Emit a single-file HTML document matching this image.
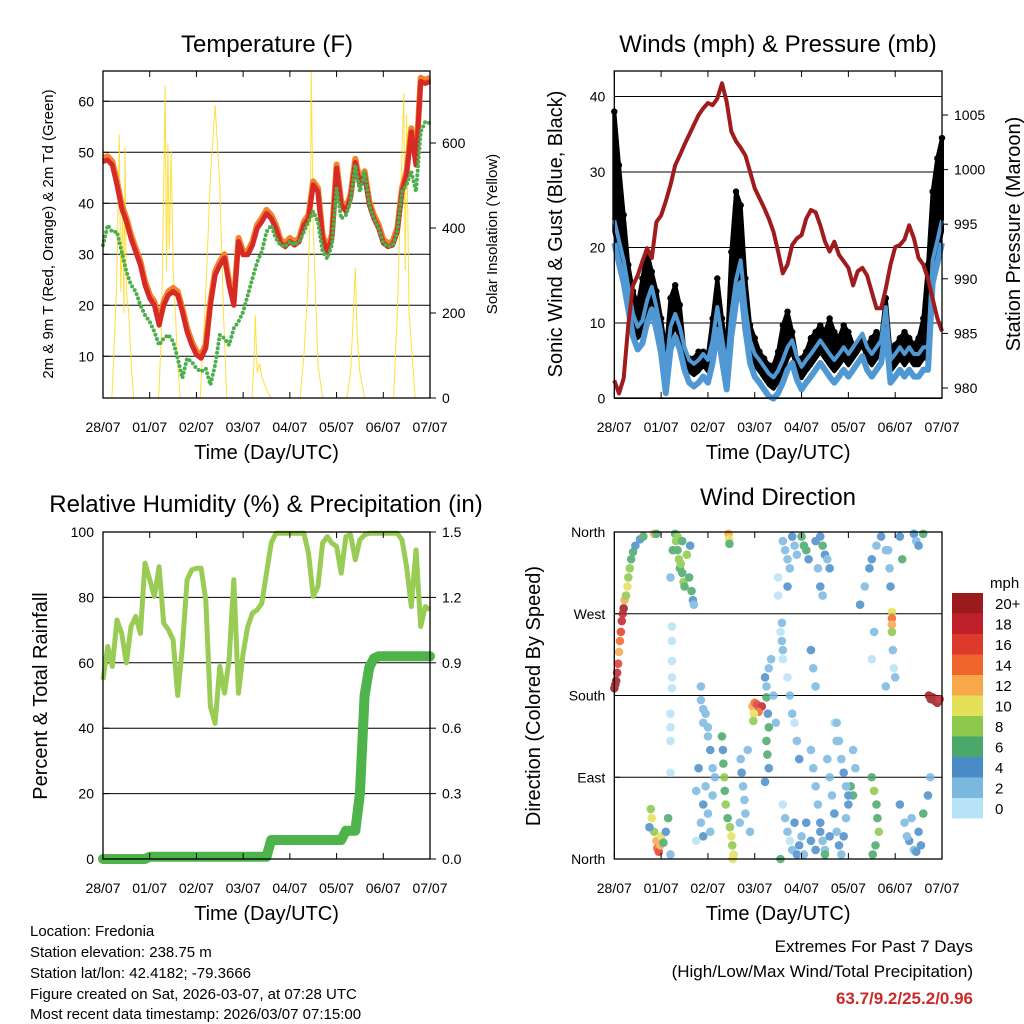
<!DOCTYPE html>
<html><head><meta charset="utf-8"><style>
html,body{margin:0;padding:0;background:#fff;}
svg{display:block;font-family:"Liberation Sans",Arial,sans-serif;}
</style></head><body>
<svg id="root" width="1024" height="1024" viewBox="0 0 1024 1024">
<rect width="1024" height="1024" fill="#fff"/>
<g id="layer"></g>
<g font-size="15" fill="#000">
<text x="30" y="936">Location: Fredonia</text>
<text x="30" y="957">Station elevation: 238.75 m</text>
<text x="30" y="978">Station lat/lon: 42.4182; -79.3666</text>
<text x="30" y="999">Figure created on Sat, 2026-03-07, at 07:28 UTC</text>
<text x="30" y="1019">Most recent data timestamp: 2026/03/07 07:15:00</text>
</g>
<g text-anchor="end">
<text x="973" y="952" font-size="17">Extremes For Past 7 Days</text>
<text x="973" y="977" font-size="17">(High/Low/Max Wind/Total Precipitation)</text>
<text x="973" y="1004" font-size="17" font-weight="bold" fill="#cc2a2a">63.7/9.2/25.2/0.96</text>
</g>
</svg>
<script>
// ---------- data (0.1-day steps, t = 0 .. 7) ----------
const tempRed = [48.2,48.5,47.5,43.6,39,36.4,33.1,30.5,27.9,24,21.4,20,16.1,20,22,22.7,22,18.7,14.8,12.2,10.3,9.6,11.6,20,25.9,27.9,29.3,24,20,32.5,29.9,29.9,31.8,35.1,36.4,38,37,35.1,32.2,31.5,32.5,31.8,32.5,35.7,37,43.6,42.3,33.1,30.5,33.1,46.9,39.7,38.4,41,48,43.6,45.6,39.7,37,35.1,32.2,31.5,31.8,34.4,42.3,45.6,54,47.5,63.9,63.5,63.9];
const dewGreen = [31.8,35.7,34.4,34.4,30.5,26.6,24,22.7,20,18.1,16.8,14.8,12.2,13.5,14.2,12.9,9.6,5.7,9.6,8.9,7.6,7,7.6,4.4,8.3,14.2,13.5,12.2,15.5,16.8,18.7,22,25.3,28.5,30.5,34.4,35.7,33.1,31.8,31.5,32.5,31.8,32.5,34.4,36.4,38.4,36.4,30.5,29.2,31.8,42.9,37,37.7,40.3,47.5,42.3,46.2,39.7,37,35.1,32.2,31.5,31.8,34.4,42.3,43.6,46.2,42.3,54,56,55.7];
const solarT = [0.19,0.25,0.3,0.35,0.38,0.42,0.45,0.47,0.5,0.55,0.62,0.66, 1.19,1.25,1.3,1.33,1.36,1.39,1.42,1.46,1.5,1.55,1.6,1.65, 2.08,2.2,2.3,2.4,2.5,2.58,2.65, 3.19,3.23,3.26,3.3,3.35,3.4,3.5,3.6, 4.22,4.3,4.38,4.44,4.46,4.5,4.55,4.6,4.7, 5.22,5.3,5.36,5.4,5.44,5.5,5.6, 6.22,6.3,6.38,6.44,6.47,6.5,6.55,6.62,6.68];
const solarW = [0,150,300,620,250,450,200,590,250,200,50,0, 0,150,500,736,300,600,350,580,300,200,80,0, 0,250,520,689,500,200,0, 0,80,195,60,80,50,20,0, 0,100,250,450,769,400,250,80,0, 0,60,200,306,150,60,0, 0,200,500,718,300,666,200,100,0];
const windSust = [22.1,19.4,16.8,13.3,9.7,8,8.8,11.5,13.3,10.6,7.5,2.2,8,9.7,8,5.3,3.6,3.1,3.6,4.4,3.6,6.2,10.6,6.6,2.7,9.7,14.2,16.8,10.6,6.2,4.4,3.6,2.7,1.8,1.3,2.2,3.6,5.3,6.2,4,2.7,3.6,4.4,5.3,6.2,5.3,4.4,3.6,4.4,5.3,4.4,5.3,6.2,7.1,5.3,4.4,5.3,6.2,10.6,3.6,4.4,5.3,4.4,5.3,4.4,4.4,5.3,5.3,16.8,19.4,22.1];
const windGust = [38,30.9,24.3,17.7,14.2,12.4,15.9,19.4,16.8,14.2,10.6,6.2,13.3,15,12.4,6.2,5.3,5.3,6.2,6.2,5.8,10.6,15.9,10.6,6.2,19.4,27.4,25.6,15.9,9.7,8,6.2,5.3,4.4,4.4,6.2,9.7,11.5,8.8,5.3,5.3,6.2,8,8.8,9.7,8.8,10.6,8.8,8,9.7,8.8,7.1,7.1,8,7.1,8,8.8,8,13.3,6.2,7.1,8,8.8,8,7.1,8,10.6,17.7,27.4,31.8,34.5];
const pressure = [980.7,979.5,980.9,985.8,989.4,990.3,991.6,992.8,991.9,995.2,995.8,997.1,998.6,1000.4,1001.3,1002.3,1003.2,1004.1,1005,1005.6,1006.1,1005.9,1006.5,1007.9,1006.2,1003.5,1002.6,1002,1001.3,999.8,998.3,997.4,996.5,995.5,994.3,992.5,990.5,991.3,993.1,993.7,994,995.5,996.3,996.1,994.9,993.4,992.5,993.4,992.2,991.6,991,989.4,990.7,991,990.3,988.8,987.3,987.3,989.1,991.3,992.9,993.1,993.6,994.9,993.7,991.9,991.3,990,988.2,986.4,985.2];
const relHum = [54.8,65,58.9,73.1,69,60,71.1,74.2,69,90.5,85.4,80.3,89.4,72.1,70.1,67,50,65,85.4,88.4,88.9,88.9,79.2,46.6,41.5,58.9,50.7,60.9,85.4,50.7,62.9,71.1,75.2,76.2,78.2,87.4,96.6,99.6,99.6,99.6,99.6,99.6,99.6,99.6,93.5,80.3,83.3,96.6,98.6,96.6,95.6,87.4,98.6,99.1,91.5,97.6,99.1,99.6,99.6,99.6,99.6,99.6,99.6,99.6,97.6,89.4,77.2,94.5,71.1,77.2,76.2];
const precip = [0,0,0,0,0,0,0,0,0,0, 0.01,0.01,0.01,0.01,0.01,0.01,0.01,0.01,0.01,0.01,0.01,0.01,0.01,0.01,0.01,0.01,0.01,0.01,0.01,0.01,0.01,0.01,0.01,0.01,0.01,0.01, 0.087,0.087,0.087,0.087,0.087,0.087,0.087,0.087,0.087,0.087,0.087,0.087,0.087,0.087,0.087,0.087, 0.13,0.13,0.13, 0.3,0.75,0.88,0.92, 0.93,0.93,0.93,0.93,0.93,0.93,0.93,0.93,0.93,0.93,0.93,0.93];
// wind direction observations: time (days), direction (deg), speed (mph)
const dirT = [0,0.02,0.04,0.06,0.08,0.1,0.12,0.14,0.16,0.18,0.2,0.22,0.25,0.28,0.3,0.33,0.36,0.4,0.45,0.55,0.62,0.85,0.9,
 1.3,1.32,1.35,1.38,1.4,1.42,1.45,1.48,1.5,1.55,1.6,1.65,1.68,1.7,1.62,1.2,1.25,1.35,1.45,
 2.44,2.45,2.46,
 1.23,1.23,1.23,1.23,1.23,1.2,1.2,1.2,1.2,
 1.85,1.85,1.9,1.95,1.9,2.0,2.0,2.05,2.1,2.15,2.1,1.95,1.9,1.85,2.0,2.05,1.9,1.75,1.75,1.8,
 2.3,2.32,2.33,2.35,2.36,2.38,2.42,2.47,2.5,2.52,2.55,2.53,
 2.7,2.72,2.75,2.78,2.8,2.68,2.9,2.85,
 2.95,3.0,3.05,3.1,3.15,3.08,2.98,2.97,
 3.22,3.25,3.25,3.28,3.3,3.25,3.27,3.3,3.22,3.3,3.35,3.4,3.45,
 3.6,3.65,3.7,3.75,3.8,3.9,3.95,4.0,3.85,3.55,4.05,
 3.6,3.65,3.7,3.75,3.7,3.8,3.85,3.9,4.0,4.05,4.1,4.15,3.5,3.5,3.58,3.58,3.6,4.4,4.45,4.5,4.55,4.6,4.3,
 3.55,3.6,3.7,3.75,3.8,3.85,3.9,3.95,
 4.2,4.25,4.3,4.35,4.4,4.45,4.2,4.25,4.3,4.35,4.4,4.45,4.5,
 4.6,4.65,4.7,4.75,4.8,4.85,4.9,4.95,5.0,5.05,5.1,4.55,4.7,4.75,
 4.75,4.8,4.85,4.9,4.95,5.0,5.1,5.15,
 5.5,5.55,5.6,5.62,5.65,5.58,5.52,
 5.25,5.35,5.45,5.6,5.7,5.8,5.5,5.55,5.5,6.0,6.1,6.15,
 5.93,5.93,5.93,5.93,5.9,5.88,5.85,5.95,5.97,5.8,
 6.1,6.2,6.3,6.4,6.5,6.6,6.7,6.75,6.55,6.35,6.25,6.45,
 6.4,6.45,6.5,6.6,
 6.72,6.76,6.8,6.85,6.9,6.95,
 4.1,4.2,4.3,4.4,4.5,4.6,
 0.78,0.8,0.85,0.9,0.92,0.95,0.98,1.0,1.05,1.1,1.15,1.2,0.75];
const dirDeg = [188,192,196,205,215,228,240,250,262,270,276,285,290,300,310,320,330,338,345,352,355,358,358,
 358,350,340,330,320,325,315,305,300,335,310,295,285,280,345,310,340,355,350,
 358,352,347,
 256,240,218,200,188,160,145,130,95,
 190,175,165,160,150,145,135,120,100,90,70,80,60,40,50,30,25,20,75,100,
 135,120,105,90,75,60,45,35,25,15,5,0,
 110,95,80,65,50,40,30,120,
 168,172,170,166,168,162,160,152,
 200,190,178,160,145,130,115,100,85,210,220,180,150,
 60,45,30,20,10,5,15,25,40,0,5,
 350,340,330,320,300,355,345,335,355,345,340,330,310,290,260,240,220,355,345,335,330,320,350,
 250,230,200,180,160,150,130,110,
 230,210,190,320,300,290,120,100,80,60,40,20,10,
 90,70,50,30,15,5,25,45,60,80,70,110,150,130,
 150,130,110,95,80,70,120,100,
 90,75,60,45,30,15,5,
 280,300,320,345,355,340,330,250,220,200,355,330,
 272,265,258,250,300,320,340,230,210,190,
 60,40,20,10,30,50,70,90,15,45,25,8,
 358,350,345,358,
 180,176,178,174,172,176,
 40,20,10,30,5,25,
 55,45,30,20,12,8,15,25,18,30,45,5,35];
const dirSpd = [21,21,20,19,17,13,14,16,18,19,20,12,9,10,8,8,7,6,5,4,6,12,7,
 6,8,7,8,6,8,7,8,6,8,7,6,4,3,4,3,7,8,6,
 12,10,7,
 1,1,0,0,1,1,1,1,1,
 2,3,2,3,2,2,3,4,2,3,2,3,4,3,2,3,4,1,3,4,
 6,5,7,8,7,8,6,9,10,9,10,11,
 3,4,2,3,2,3,2,3,
 13,15,16,17,18,15,10,9,
 4,3,6,5,6,7,6,5,4,3,2,3,2,
 1,2,3,1,2,4,4,3,4,6,3,
 2,3,2,3,4,4,2,3,6,7,6,4,1,0,2,2,1,5,6,4,3,4,4,
 1,2,1,3,2,1,3,4,
 4,3,2,3,4,3,3,2,3,2,4,3,2,
 2,3,4,3,4,3,4,2,4,6,7,3,1,2,
 2,3,2,4,3,4,3,2,
 7,8,6,7,8,6,7,
 4,3,5,3,4,2,4,2,1,3,4,6,
 10,14,12,8,4,3,2,2,1,2,
 4,3,4,3,5,6,4,3,4,2,3,4,
 4,3,4,7,
 20,21,20,21,20,19,
 4,5,4,5,6,4,
 9,10,8,12,14,16,13,10,6,5,6,3,5];
const dayLabels = ["28/07","01/07","02/07","03/07","04/07","05/07","06/07","07/07"];
const tempTicks = [10,20,30,40,50,60];
const solarTicks = [0,200,400,600];
const windTicks = [0,10,20,30,40];
const presTicks = [980,985,990,995,1000,1005];
const rhTicks = [0,20,40,60,80,100];
const rainTicks = ["0.0","0.3","0.6","0.9","1.2","1.5"];
const dirTicks = [0,90,180,270,360];
const dirNames = ["North","East","South","West","North"];
const speedBins = ["20+","18","16","14","12","10","8","6","4","2","0"];
const speedColors = ["#9b1a1e","#c0202a","#dd3a2b","#f0652c","#f8a848","#e4e05a","#8cc84a","#4aa86a","#4a8cc8","#7ab8e0","#b8e2f5"];

const NS = "http://www.w3.org/2000/svg";
const layer = document.getElementById("layer");
function mk(tag, attrs, name, parent) {
  const e = document.createElementNS(NS, tag);
  for (const k in attrs) e.setAttribute(k, attrs[k]);
  
  
  (parent || layer).appendChild(e);
  return e;
}
function txt(x, y, s, attrs, name, parent) {
  const e = mk("text", Object.assign({x: x, y: y}, attrs), name, parent);
  e.textContent = s;
  return e;
}
function pathFrom(arr, fx, fy) {
  return arr.map((v, i) => (i ? "L" : "M") + fx(i * 0.1).toFixed(1) + "," + fy(v).toFixed(1)).join("");
}

const P = {
  tl: {x0: 103, x1: 430, y0: 71, y1: 398},
  tr: {x0: 614.3, x1: 942, y0: 71, y1: 398},
  bl: {x0: 103, x1: 430, y0: 532, y1: 859},
  br: {x0: 614.3, x1: 942, y0: 532, y1: 859}
};
function xs(p) { return t => p.x0 + t * (p.x1 - p.x0) / 7; }

function frameAndTime(p, prefix) {
  const fx = xs(p);
  const g = mk("g", {}, prefix + "-x-axis");
  for (let i = 0; i < 8; i++) {
    const x = fx(i);
    mk("line", {x1: x, x2: x, y1: p.y1, y2: p.y1 - 6, stroke: "#000", "stroke-width": 1}, prefix + "-x-tick", g);
    mk("line", {x1: x, x2: x, y1: p.y0, y2: p.y0 + 6, stroke: "#000", "stroke-width": 1}, prefix + "-x-tick-top", g);
    txt(x, p.y1 + 34, dayLabels[i], {"font-size": 14, "text-anchor": "middle"}, prefix + "-x-tick-label", g);
  }
  txt((p.x0 + p.x1) / 2, p.y1 + 61, "Time (Day/UTC)", {"font-size": 20, "text-anchor": "middle"}, prefix + "-x-axis-title", g);
}
function frame(p, prefix) {
  mk("rect", {x: p.x0, y: p.y0, width: p.x1 - p.x0, height: p.y1 - p.y0, fill: "none", stroke: "#000", "stroke-width": 1.3}, prefix + "-plot-frame");
}
function leftAxis(p, prefix, ticks, fy, labels, grid) {
  const g = mk("g", {}, prefix + "-y-axis");
  ticks.forEach((v, i) => {
    const y = fy(v);
    if (grid) mk("line", {x1: p.x0, x2: p.x1, y1: y, y2: y, stroke: "#000", "stroke-width": 1}, prefix + "-gridline", g);
    mk("line", {x1: p.x0, x2: p.x0 + 6, y1: y, y2: y, stroke: "#000"}, prefix + "-y-tick", g);
    txt(p.x0 - 9, y + 5, labels ? labels[i] : String(v), {"font-size": 14, "text-anchor": "end"}, prefix + "-y-tick-label", g);
  });
}
function rightAxis(p, prefix, ticks, fy, labels) {
  const g = mk("g", {}, prefix + "-y2-axis");
  ticks.forEach((v, i) => {
    const y = fy(typeof v === "string" ? parseFloat(v) : v);
    mk("line", {x1: p.x1, x2: p.x1 + 6, y1: y, y2: y, stroke: "#000"}, prefix + "-y2-tick", g);
    txt(p.x1 + 12, y + 5, labels ? labels[i] : String(v), {"font-size": 14}, prefix + "-y2-tick-label", g);
  });
}
function vtitle(x, y, s, size, name) {
  txt(0, 0, s, {"font-size": size, "text-anchor": "middle", transform: "translate(" + x + "," + y + ") rotate(-90)"}, name);
}

// ---------- Panel 1: Temperature ----------
(function () {
  const p = P.tl, fx = xs(p);
  const fT = v => 407.3 - v * 5.1;
  const fS = w => 398 - w * 0.425;
  txt(267, 52, "Temperature (F)", {"font-size": 24, "text-anchor": "middle"}, "temperature-title");
  leftAxis(p, "temp", tempTicks, fT, null, true);
  rightAxis(p, "solar", solarTicks, fS, null);
  const sp = solarT.map((t, i) => (i && solarT[i] > solarT[i - 1] ? "L" : "M") + fx(t).toFixed(1) + "," + fS(solarW[i]).toFixed(1)).join("");
  mk("path", {d: sp, fill: "none", stroke: "#ffd91a", "stroke-width": 1, opacity: 0.85}, "solar-insolation-line");
  mk("path", {d: pathFrom(tempRed, fx, v => fT(v + 0.7)), fill: "none", stroke: "#f5822a", "stroke-width": 6, "stroke-linejoin": "round"}, "temp-9m-orange-line");
  mk("path", {d: pathFrom(tempRed, fx, fT), fill: "none", stroke: "#d62a27", "stroke-width": 5, "stroke-linejoin": "round"}, "temp-2m-red-line");
  mk("path", {d: pathFrom(dewGreen, fx, fT), fill: "none", stroke: "#4caf4c", "stroke-width": 4, "stroke-linecap": "round", "stroke-dasharray": "0 4.5"}, "dewpoint-green-dots");
  frame(p, "temp");
  frameAndTime(p, "temp");
  vtitle(53, 234, "2m & 9m T (Red, Orange) & 2m Td (Green)", 15, "temp-y-axis-title");
  vtitle(497, 234, "Solar Insolation (Yellow)", 15, "solar-y-axis-title");
})();

// ---------- Panel 2: Winds & Pressure ----------
(function () {
  const p = P.tr, fx = xs(p);
  const fW = v => 398.5 - v * 7.55;
  const fP = v => 388 - (v - 980) * 10.92;
  txt(778, 52, "Winds (mph) & Pressure (mb)", {"font-size": 24, "text-anchor": "middle"}, "winds-title");
  leftAxis(p, "wind", windTicks, fW, null, true);
  rightAxis(p, "pressure", presTicks, fP, null);
  const top = windGust.map((v, i) => (i ? "L" : "M") + fx(i * 0.1).toFixed(1) + "," + fW(v).toFixed(1)).join("");
  const bot = windSust.slice().reverse().map((v, j) => "L" + fx((windSust.length - 1 - j) * 0.1).toFixed(1) + "," + fW(v).toFixed(1)).join("");
  mk("path", {d: top + bot + "Z", fill: "#000", stroke: "#000", "stroke-width": 4, "stroke-linejoin": "round"}, "gust-band");
  const gg = mk("g", {}, "gust-points");
  windGust.forEach((v, i) => {
    mk("circle", {cx: fx(i * 0.1), cy: fW(v), r: 3.2, fill: "#000"}, "gust-point", gg);
  });
  mk("path", {d: pathFrom(windSust, fx, v => fW(v + 1.5)), fill: "none", stroke: "#4f98d3", "stroke-width": 4, "stroke-linejoin": "round"}, "sustained-wind-upper");
  mk("path", {d: pathFrom(windSust, fx, v => fW(Math.max(v - 1.5, 0))), fill: "none", stroke: "#4f98d3", "stroke-width": 6, "stroke-linejoin": "round"}, "sustained-wind-line");
  mk("path", {d: pathFrom(pressure, fx, fP), fill: "none", stroke: "#a01c1c", "stroke-width": 4, "stroke-linejoin": "round"}, "pressure-line");
  frame(p, "wind");
  frameAndTime(p, "wind");
  vtitle(562, 234, "Sonic Wind & Gust (Blue, Black)", 20, "wind-y-axis-title");
  vtitle(1020, 234, "Station Pressure (Maroon)", 20, "pressure-y-axis-title");
})();

// ---------- Panel 3: RH & Precip ----------
(function () {
  const p = P.bl, fx = xs(p);
  const fR = v => 859 - v * 3.27;
  const fPr = v => 859 - v / 1.5 * 327;
  txt(266, 512, "Relative Humidity (%) & Precipitation (in)", {"font-size": 24, "text-anchor": "middle"}, "rh-precip-title");
  leftAxis(p, "rh", rhTicks, fR, null, true);
  rightAxis(p, "rain", rainTicks, fPr, rainTicks);
  mk("path", {d: pathFrom(relHum, fx, fR), fill: "none", stroke: "#99cc55", "stroke-width": 5, "stroke-linejoin": "round"}, "relative-humidity-line");
  mk("path", {d: pathFrom(precip, fx, fPr), fill: "none", stroke: "#4db34a", "stroke-width": 10, "stroke-linejoin": "round", "stroke-linecap": "round"}, "precipitation-line");
  frame(p, "rh");
  frameAndTime(p, "rh");
  vtitle(47, 696, "Percent & Total Rainfall", 20, "rh-y-axis-title");
})();

// ---------- Panel 4: Wind Direction ----------
(function () {
  const p = P.br, fx = xs(p);
  const fD = d => 859 - d * 0.9083;
  txt(778, 505, "Wind Direction", {"font-size": 24, "text-anchor": "middle"}, "wind-direction-title");
  leftAxis(p, "dir", dirTicks, fD, dirNames, true);
  const g = mk("g", {opacity: 0.85}, "direction-points");
  dirT.forEach((t, i) => {
    const s = dirSpd[i];
    const bin = Math.min(10, Math.max(0, 10 - Math.floor(s / 2)));
    mk("circle", {cx: fx(t), cy: fD(dirDeg[i]), r: 4.3, fill: speedColors[bin]}, "direction-point", g);
  });
  frame(p, "dir");
  frameAndTime(p, "dir");
  vtitle(540, 696, "Direction (Colored By Speed)", 20, "dir-y-axis-title");
  const cb = mk("g", {}, "speed-colorbar");
  txt(990, 588, "mph", {"font-size": 15}, "colorbar-unit", cb);
  speedBins.forEach((lab, i) => {
    const y = 593 + i * 20.5;
    mk("rect", {x: 952, y: y, width: 31, height: 20.5, fill: speedColors[i]}, "colorbar-swatch", cb);
    txt(995, y + 16, lab, {"font-size": 15}, "colorbar-label", cb);
  });
})();
</script>
</body></html>
